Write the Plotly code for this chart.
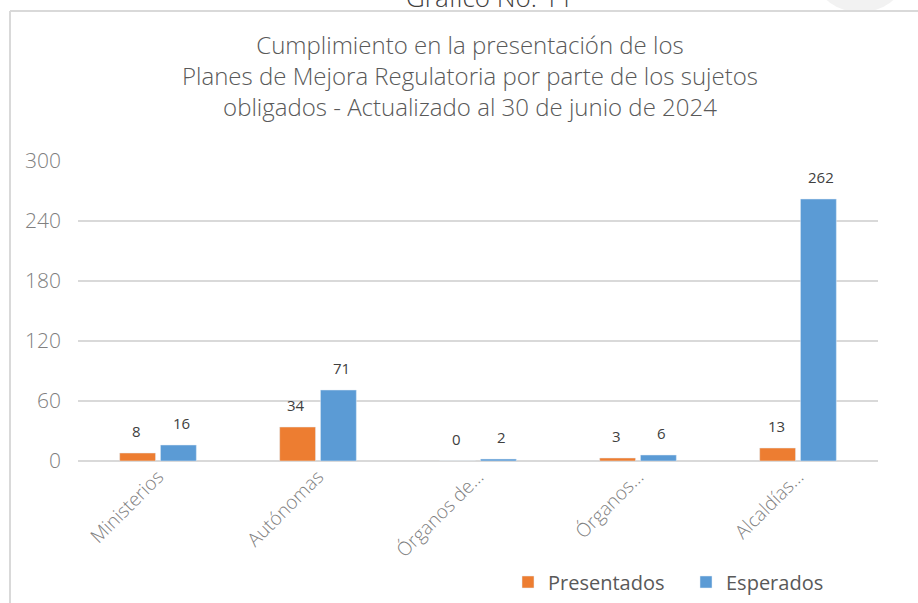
import plotly.graph_objects as go

categorias = ["Ministerios", "Autónomas", "Órganos de...", "Órganos...", "Alcaldías..."]
presentados = [8, 34, 0, 3, 13]
esperados = [16, 71, 2, 6, 262]
ticks_y = [0, 60, 120, 180, 240, 300]
titulo = ("Cumplimiento en la presentación de los<br>"
          "Planes de Mejora Regulatoria por parte de los sujetos<br>"
          "obligados - Actualizado al 30 de junio de 2024")

naranja = "#ED7D31"
azul = "#5B9BD5"

W, H = 918, 603
# plot area in pixels: x 78..878, y 161..461
L, R, T, B = 78, 40, 161, 142
def px(x):
    return (x - L) / (W - L - R)
def py(y):
    return (H - B - y) / (H - T - B)

thin = dict(family="Open Sans", weight=300)

fig = go.Figure()
fig.add_trace(go.Bar(x=categorias, y=presentados, name="Presentados",
                     marker=dict(color=naranja)))
fig.add_trace(go.Bar(x=categorias, y=esperados, name="Esperados",
                     marker=dict(color=azul)))

# etiquetas de datos
anots = []
for vals, shift in [(presentados, -22), (esperados, 23)]:
    for c, v in zip(categorias, vals):
        anots.append(dict(x=c, y=v, text=str(v), showarrow=False, xshift=shift,
                          yshift=22, yanchor="middle",
                          font=dict(family="Open Sans", size=15, color="#404040")))

anots.append(dict(xref="paper", yref="paper", x=px(489), y=py(-3), text="Gráfico No. 11",
                  showarrow=False, xanchor="center", yanchor="middle",
                  font=dict(size=26, color="#404040", **thin)))

anots.append(dict(xref="paper", yref="paper", x=px(470), y=py(75), text=titulo,
                  showarrow=False, xanchor="center", yanchor="middle",
                  font=dict(size=24, color="#595959", **thin)))

fig.update_layout(
    width=W, height=H,
    margin=dict(l=L, r=R, t=T, b=B, autoexpand=False),
    paper_bgcolor="white", plot_bgcolor="white",
    barmode="group", bargap=0.49, bargroupgap=0.12,
    xaxis=dict(tickangle=-45, showgrid=False, showline=False, ticks="", automargin=False,
               tickfont=dict(size=19, color="#7f7f7f", **thin)),
    yaxis=dict(range=[0, 300], tickvals=ticks_y, showgrid=True, gridcolor="#d9d9d9",
               gridwidth=1.5, zeroline=True, zerolinecolor="#d9d9d9", zerolinewidth=1.5,
               ticks="", ticklabelstandoff=16, automargin=False,
               tickfont=dict(size=21, color="#808080", **thin)),
    legend=dict(orientation="h", x=px(508), y=py(582), xanchor="left", yanchor="middle",
                font=dict(family="Open Sans", size=20, color="#595959"),
                itemwidth=30, entrywidth=133, traceorder="normal"),
    annotations=anots,
    shapes=[
        dict(type="line", xref="paper", yref="paper", x0=px(10), x1=px(930),
             y0=py(11), y1=py(11), line=dict(color="#d9d9d9", width=2)),
        dict(type="line", xref="paper", yref="paper", x0=px(10), x1=px(10),
             y0=py(11), y1=py(620), line=dict(color="#d9d9d9", width=2)),
        dict(type="circle", xref="paper", yref="paper", x0=px(818), x1=px(902),
             y0=py(-50), y1=py(12), line=dict(width=0), fillcolor="#f2f2f2", layer="below"),
    ],
)

fig.write_html("out.html", config={"displayModeBar": False},
               post_script="document.body.style.margin='0';")
